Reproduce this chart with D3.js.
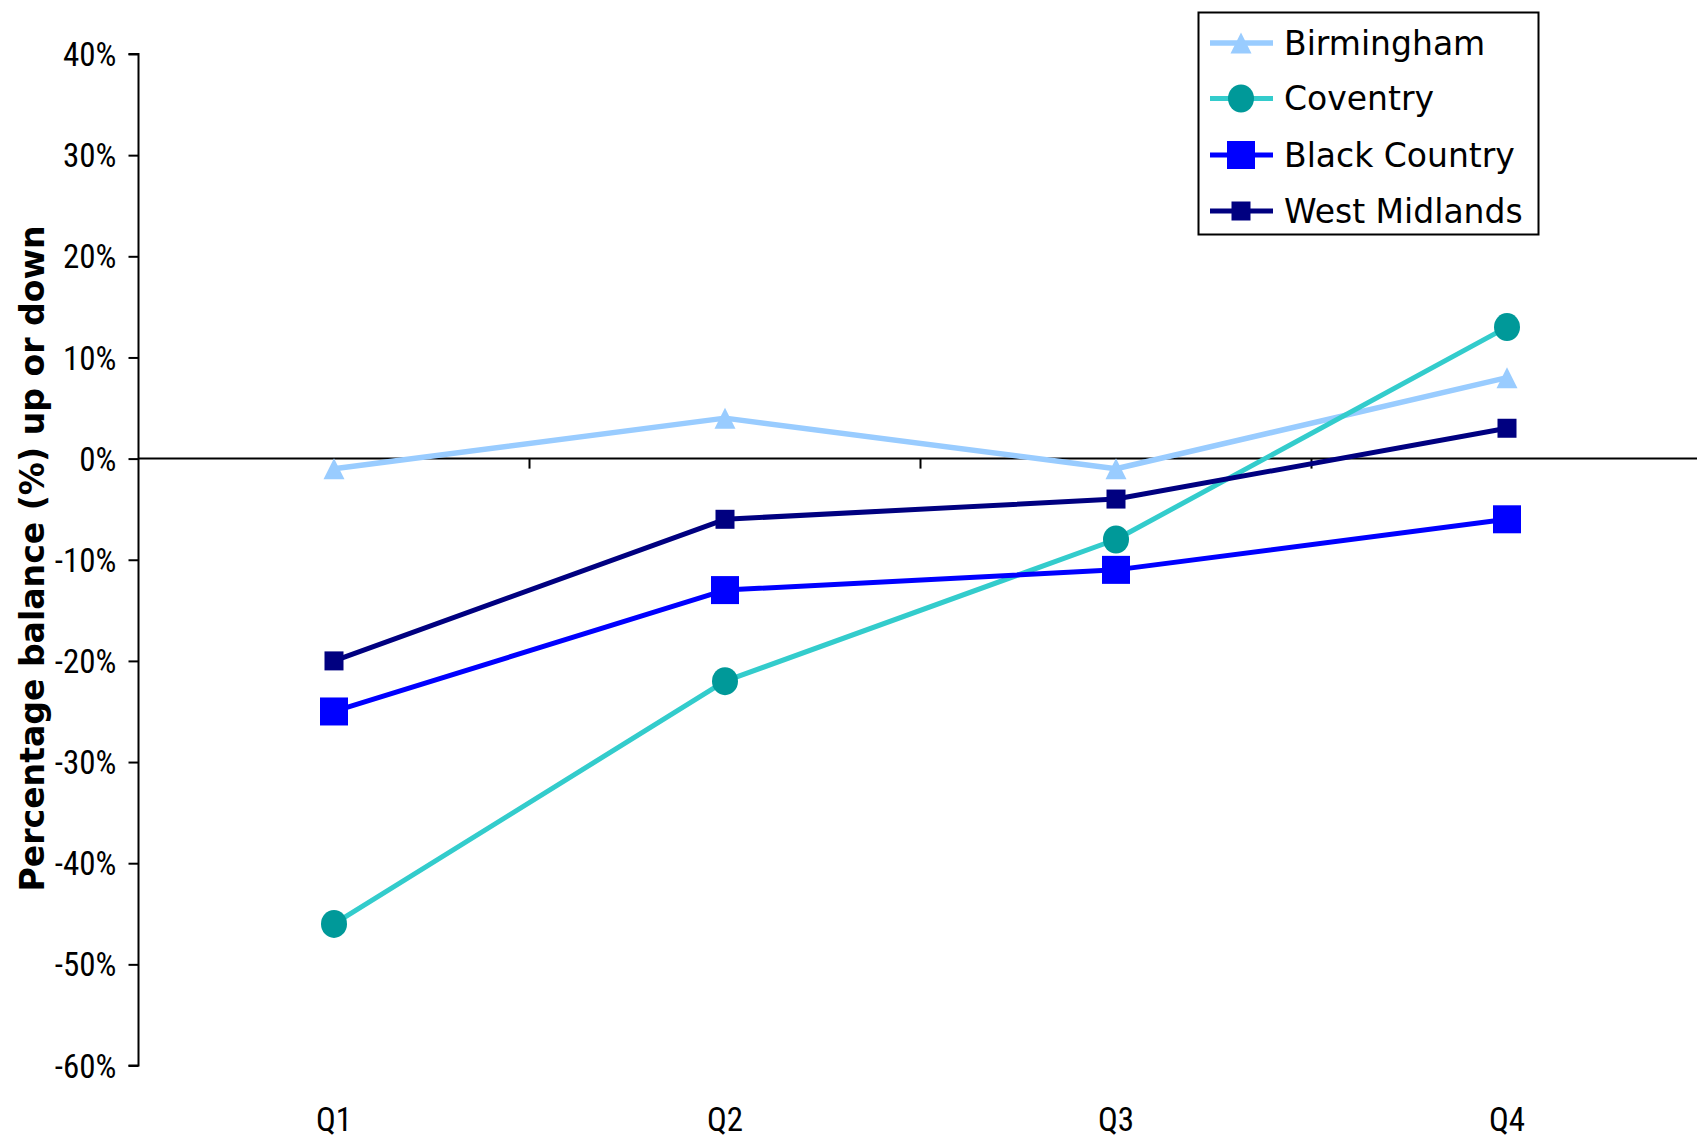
<!DOCTYPE html>
<html><head><meta charset="utf-8">
<script src="https://cdn.jsdelivr.net/npm/d3@7"></script>
<style>
html,body{margin:0;padding:0;background:#fff;}
svg{display:block;}
</style></head>
<body>
<script>
const categories = ["Q1","Q2","Q3","Q4"];
const birmingham = [-1, 4, -1, 8];
const coventry = [-46, -22, -8, 13];
const blackCountry = [-25, -13, -11, -6];
const westMidlands = [-20, -6, -4, 3];
const yTicks = [40, 30, 20, 10, 0, -10, -20, -30, -40, -50, -60];
const seriesNames = ["Birmingham","Coventry","Black Country","West Midlands"];
const yLabel = "Percentage balance (%) up or down";

const series = [
  {name: seriesNames[0], values: birmingham, line: "#99CCFF", fill: "#99CCFF", shape: "triangle", size: 21, lw: 5.5},
  {name: seriesNames[1], values: coventry, line: "#33CCCC", fill: "#009999", shape: "circle", size: 27, lw: 5},
  {name: seriesNames[2], values: blackCountry, line: "#0000FF", fill: "#0000FF", shape: "square", size: 28, lw: 5},
  {name: seriesNames[3], values: westMidlands, line: "#000080", fill: "#000080", shape: "square", size: 19, lw: 5}
];

const W = 1697, H = 1139;
const svg = d3.select("body").append("svg").attr("width", W).attr("height", H);

const x0 = 138.5, bw = 391;
const x = d3.scaleBand().domain(categories).range([x0, x0 + bw*4]).paddingInner(0).paddingOuter(0);
const y = d3.scaleLinear().domain([-60, 40]).range([1065.5, 54]);

const tickFont = "'Liberation Sans Narrow','Roboto Condensed','Liberation Sans',sans-serif";

// y axis
const yAxis = svg.append("g").attr("transform", `translate(${x0},0)`)
  .call(d3.axisLeft(y).tickValues(yTicks).tickSize(10).tickPadding(12).tickFormat(d => d + "%"));
yAxis.select(".domain").attr("stroke", "#000").attr("stroke-width", 2).attr("d", `M-10,${y(40)}H0V${y(-60)}H-10`);
yAxis.selectAll(".tick line").attr("stroke", "#000").attr("stroke-width", 2);
yAxis.selectAll(".tick text").attr("font-family", tickFont).attr("font-size", 33).attr("fill", "#000").attr("dy", "0.35em");

// x axis at zero
const xAxis = svg.append("g").attr("transform", `translate(0,${y(0)})`)
  .call(d3.axisBottom(x).tickSize(0).tickFormat(""));
xAxis.select(".domain").attr("stroke", "#000").attr("stroke-width", 2).attr("d", `M${x0},0H${W}`);
xAxis.selectAll(".tick").remove();
const bounds = categories.slice(1).map(c => x(c));
xAxis.selectAll("line.bt").data(bounds).join("line").attr("class","bt")
  .attr("x1", d => d).attr("x2", d => d).attr("y1", 0).attr("y2", 10)
  .attr("stroke", "#000").attr("stroke-width", 2);

// category labels at bottom
svg.append("g").selectAll("text").data(categories).join("text")
  .attr("x", d => x(d) + x.bandwidth()/2).attr("y", 1131)
  .attr("text-anchor", "middle").attr("font-family", tickFont).attr("font-size", 33).attr("fill", "#000")
  .text(d => d);

// y label
svg.append("text")
  .attr("transform", `translate(44,${516*1.0823}) rotate(-90)`)
  .attr("text-anchor", "middle")
  .attr("font-family", "'DejaVu Sans',sans-serif").attr("font-weight", "bold").attr("font-size", 33)
  .attr("textLength", 666).attr("lengthAdjust", "spacingAndGlyphs")
  .text(yLabel);

const cx = d => x(d) + x.bandwidth()/2;

function marker(g, s, px, py) {
  if (s.shape === "circle") {
    g.append("ellipse").attr("cx", px).attr("cy", py).attr("rx", s.size/2 - 0.5).attr("ry", s.size/2 + 0.5).attr("fill", s.fill);
  } else if (s.shape === "square") {
    g.append("rect").attr("x", px - s.size/2).attr("y", py - s.size/2).attr("width", s.size).attr("height", s.size).attr("fill", s.fill);
  } else {
    const h = s.size;
    g.append("path").attr("d", `M${px},${py - h/2}L${px + h/2},${py + h/2}L${px - h/2},${py + h/2}Z`).attr("fill", s.fill);
  }
}

const lineGen = d3.line().x((d,i) => cx(categories[i])).y(d => y(d));
series.forEach(s => {
  const g = svg.append("g");
  g.append("path").attr("d", lineGen(s.values)).attr("fill", "none").attr("stroke", s.line).attr("stroke-width", s.lw).attr("stroke-linejoin", "round");
  s.values.forEach((v, i) => marker(g, s, cx(categories[i]), y(v)));
});

// legend
const lg = svg.append("g");
lg.append("rect").attr("x", 1198.5).attr("y", 12.5).attr("width", 340).attr("height", 222).attr("fill", "#fff").attr("stroke", "#000").attr("stroke-width", 2);
const rowsY = [43, 98.5, 155, 211];
series.forEach((s, i) => {
  const ry = rowsY[i];
  lg.append("line").attr("x1", 1210).attr("x2", 1273).attr("y1", ry).attr("y2", ry).attr("stroke", s.line).attr("stroke-width", s.lw);
  marker(lg, s, 1241, ry);
  lg.append("text").attr("x", 1284).attr("y", ry).attr("dy", "0.36em")
    .attr("font-family", "'DejaVu Sans',sans-serif").attr("font-size", 33).attr("fill", "#000").text(s.name);
});
</script>
</body></html>
